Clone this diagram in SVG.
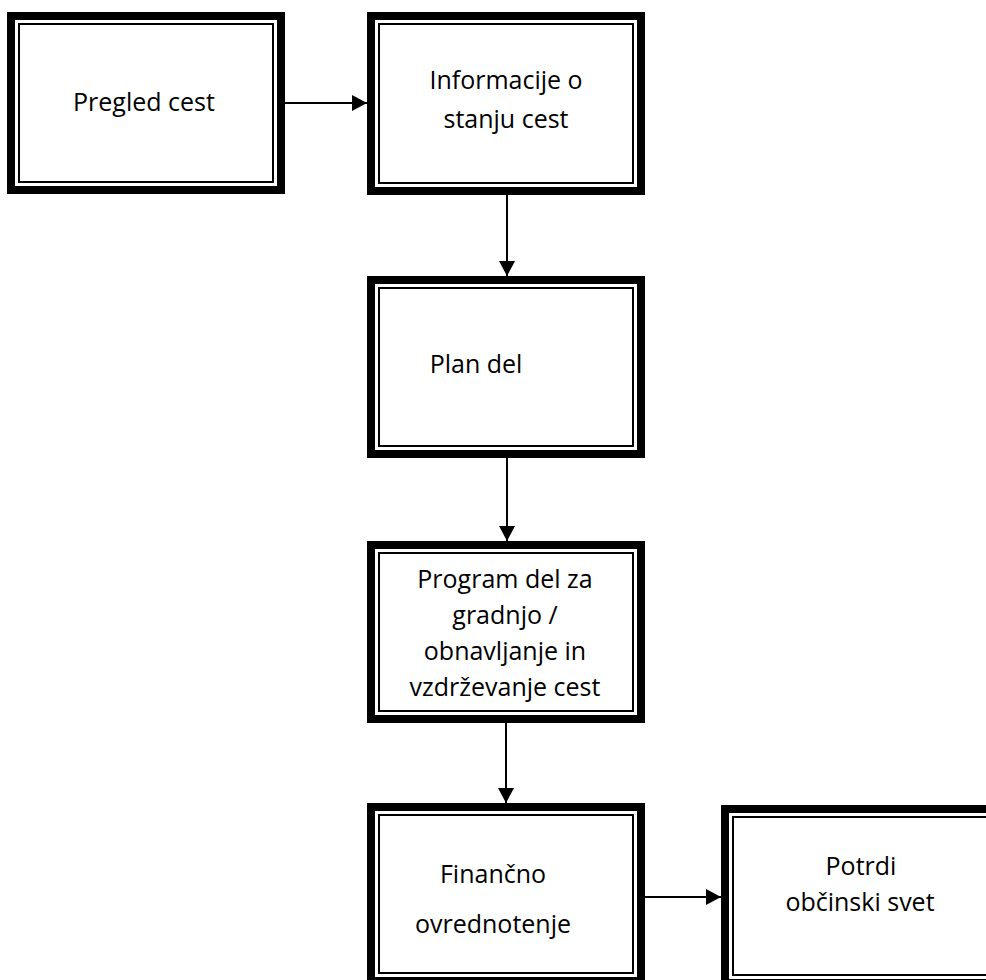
<svg xmlns="http://www.w3.org/2000/svg" width="986" height="980" viewBox="0 0 986 980">
<style>
.thick{fill:#fff;stroke:#000;stroke-width:8}
.thin{fill:none;stroke:#000;stroke-width:2}
.t{font-family:"Open Sans","Liberation Sans",sans-serif;font-size:25px;fill:#000;text-anchor:middle}
.c{stroke:#000;stroke-width:2;fill:none;marker-end:url(#ah)}
</style>
<defs>
<marker id="ah" markerUnits="userSpaceOnUse" markerWidth="16" markerHeight="16" refX="15" refY="8" orient="auto">
<path d="M0,0 L15,8 L0,16 Z" fill="#000"/>
</marker>
</defs>
<rect width="986" height="980" fill="#fff"/>
<g id="n1">
<rect class="thick" x="11" y="16" width="270" height="174"/>
<rect class="thin" x="19" y="24" width="254" height="158"/>
<text class="t" x="144" y="111">Pregled cest</text>
</g>
<g id="n2">
<rect class="thick" x="371" y="16" width="270" height="175"/>
<rect class="thin" x="379" y="24" width="254" height="159"/>
<text class="t" x="506" y="89">Informacije o</text>
<text class="t" x="506" y="128">stanju cest</text>
</g>
<g id="n3">
<rect class="thick" x="371" y="280" width="270" height="174"/>
<rect class="thin" x="379" y="288" width="254" height="158"/>
<text class="t" x="476" y="373">Plan del</text>
</g>
<g id="n4">
<rect class="thick" x="371" y="545" width="270" height="174"/>
<rect class="thin" x="379" y="553" width="254" height="158"/>
<text class="t" x="505" y="588">Program del za</text>
<text class="t" x="505" y="624">gradnjo /</text>
<text class="t" x="505" y="660">obnavljanje in</text>
<text class="t" x="505" y="696">vzdrževanje cest</text>
</g>
<g id="n5">
<rect class="thick" x="371" y="807" width="270" height="174"/>
<rect class="thin" x="379" y="815" width="254" height="158"/>
<text class="t" x="493" y="883">Finančno</text>
<text class="t" x="493" y="933">ovrednotenje</text>
</g>
<g id="n6">
<rect class="thick" x="725" y="809" width="270" height="174"/>
<rect class="thin" x="733" y="817" width="254" height="158"/>
<text class="t" x="861" y="875">Potrdi</text>
<text class="t" x="860" y="911">občinski svet</text>
</g>
<g id="connectors">
<line class="c" x1="285" y1="103" x2="367" y2="103"/>
<line class="c" x1="507" y1="195" x2="507" y2="276"/>
<line class="c" x1="507" y1="458" x2="507" y2="541"/>
<line class="c" x1="506" y1="723" x2="506" y2="803"/>
<line class="c" x1="645" y1="897" x2="721" y2="897"/>
</g>
</svg>
